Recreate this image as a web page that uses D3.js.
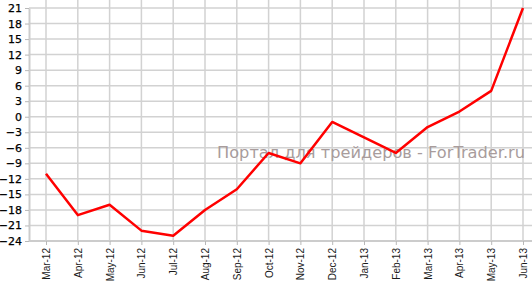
<!doctype html>
<html>
<head>
<meta charset="utf-8">
<title>Line chart</title>
<script src="https://cdnjs.cloudflare.com/ajax/libs/d3/7.8.5/d3.min.js"></script>
<style>
  body { margin: 0; background: #fff; }
  .grid line { stroke: #d2d2d2; stroke-width: 1.5px; }
  .axis path { stroke: #cccccc; stroke-width: 2px; }
  .axis line { stroke: #b8b8b8; }
  .y-axis text { font-family: "DejaVu Sans", Verdana, sans-serif; font-size: 11px; fill: #000; }
  .x-axis text { font-family: "Liberation Sans", Arial, sans-serif; font-size: 10px; fill: #1a1a1a; }
</style>
</head>
<body>
<div id="chart"></div>
<script>
// months on the x axis
const months = ["Mar-12", "Apr-12", "May-12", "Jun-12", "Jul-12", "Aug-12", "Sep-12", "Oct-12",
                "Nov-12", "Dec-12", "Jan-13", "Feb-13", "Mar-13", "Apr-13", "May-13", "Jun-13"];
// values
const values = [-11, -19, -17, -22, -23, -18, -14, -7, -9, -1, -4, -7, -2, 1, 5, 21];
// y tick labels
const yTicks = [21, 18, 15, 12, 9, 6, 3, 0, -3, -6, -9, -12, -15, -18, -21, -24];
const watermark = "Портал для трейдеров - ForTrader.ru";

const width = 532, height = 281;

const svg = d3.select('#chart')
  .append('svg')
  .attr('width', width)
  .attr('height', height);

const x = d3.scalePoint().domain(months).range([46, 523]);
const y = d3.scaleLinear().domain([-24, 21]).range([241, 8]);

// grid
svg.append('g').attr('class', 'grid')
  .selectAll('line.h').data(yTicks).join('line')
  .attr('x1', 29).attr('x2', width)
  .attr('y1', d => y(d)).attr('y2', d => y(d));

svg.append('g').attr('class', 'grid')
  .selectAll('line.v').data(months).join('line')
  .attr('x1', d => x(d)).attr('x2', d => x(d))
  .attr('y1', 0).attr('y2', y(-24));

// watermark
svg.append('text')
  .attr('x', 217).attr('y', 158)
  .style('font-family', '"DejaVu Sans", Verdana, sans-serif')
  .style('font-size', '16.2px')
  .style('fill', '#a89c9c')
  .attr('textLength', 308)
  .text(watermark);

// axes
svg.append('g').attr('class', 'axis y-axis')
  .attr('transform', 'translate(29,0)')
  .call(d3.axisLeft(y).tickValues(yTicks).tickSize(4).tickPadding(3).tickSizeOuter(0))
  .selectAll('text').style('stroke', '#000').style('stroke-width', 0.25);

svg.append('g').attr('class', 'axis x-axis')
  .attr('transform', `translate(0,${y(-24)})`)
  .call(d3.axisBottom(x).tickSize(4).tickSizeOuter(0))
  .call(g => g.select('.domain').attr('d', `M29,0H${width}`))
  .selectAll('text')
  .attr('transform', 'rotate(-90)')
  .attr('text-anchor', 'end')
  .attr('x', -7)
  .attr('y', 0)
  .attr('dy', '0.35em');

// line
const line = d3.line()
  .x((d, i) => x(months[i]))
  .y(d => y(d));

svg.append('path')
  .datum(values)
  .attr('d', line)
  .attr('fill', 'none')
  .attr('stroke', '#ff0000')
  .attr('stroke-width', 2.5)
  .attr('stroke-linejoin', 'round');
</script>
</body>
</html>
